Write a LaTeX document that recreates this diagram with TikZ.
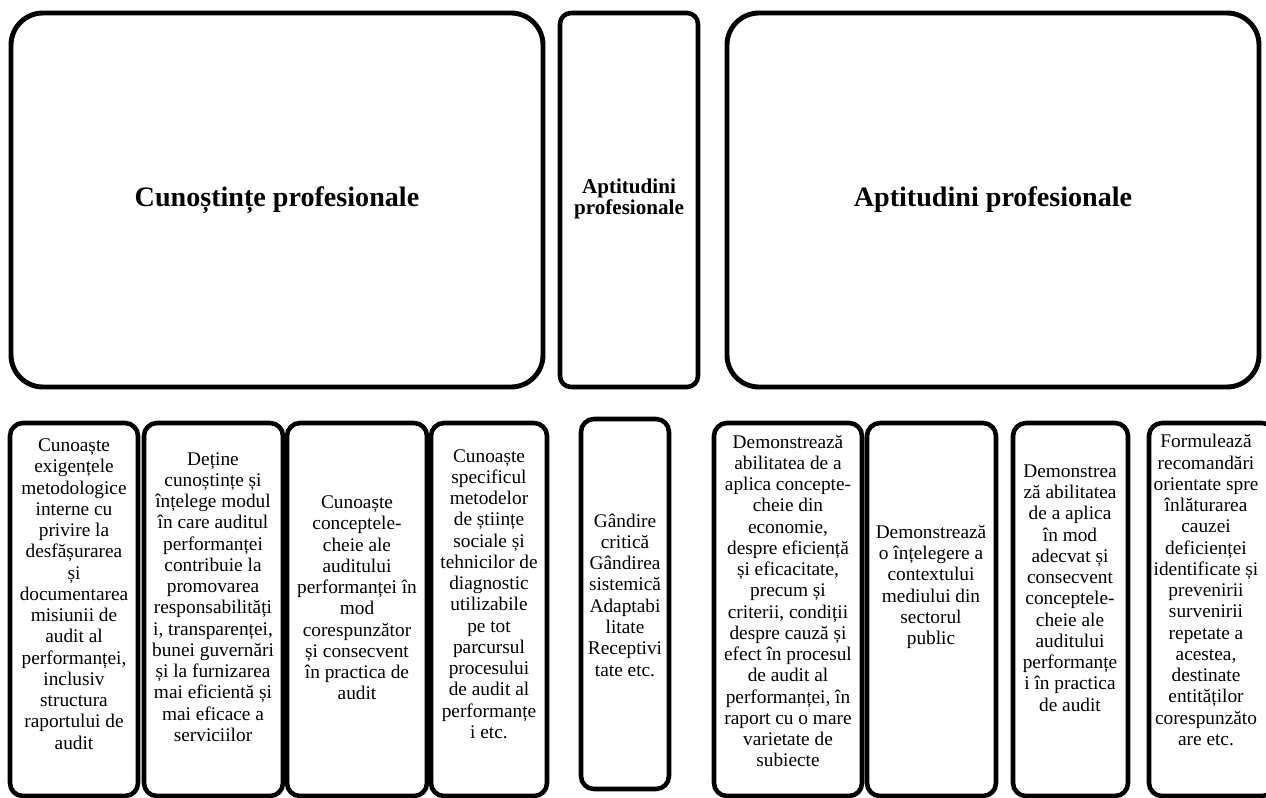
\documentclass[tikz,border=0pt]{standalone}
\usepackage{fontspec}
\setmainfont{Liberation Serif}
\tikzset{
  bigbox/.style={line width=2.8pt,rounded corners=0.64cm},
  midbox/.style={line width=2.6pt,rounded corners=0.22cm},
  colbox/.style={line width=2.6pt,rounded corners=0.26cm},
  titletxt/.style={align=center,inner sep=0pt,font=\fontsize{16}{19}\selectfont\bfseries},
  midtxt/.style={align=center,inner sep=0pt,font=\fontsize{12}{11.5}\selectfont\bfseries},
  coltxt/.style={align=center,inner sep=0pt,font=\fontsize{11}{12.1}\selectfont},
}
\begin{document}
\begin{tikzpicture}[x=0.02cm,y=-0.02cm]
\useasboundingbox (0,0) rectangle (1266,797);
% top row
\draw [bigbox] (11,13) rectangle (543,387);
\draw [midbox] (560,13) rectangle (698,387);
\draw [bigbox] (727,13) rectangle (1259,387);
\node [titletxt] (cunostinte) at (277,200) {Cunoștințe profesionale};
\node [midtxt] (aptmid) at (629,199) {Aptitudini\\profesionale};
\node [titletxt] (aptitudini) at (993,200) {Aptitudini profesionale};
% bottom row
\foreach \a/\b in {10/138,144/283,287/427,431/547,714/862,867/996,1013/1128,1149/1275}
  \draw [colbox] (\a,423) rectangle (\b,796);
\draw [colbox] (581,419) rectangle (669,789);
\node [coltxt] (c1) at (74,594) {Cunoaște\\exigențele\\metodologice\\interne cu\\privire la\\desfășurarea\\și\\documentarea\\misiunii de\\audit al\\performanței,\\inclusiv\\structura\\raportului de\\audit};
\node [coltxt] (c2) at (213,597) {Deține\\cunoștințe și\\înțelege modul\\în care auditul\\performanței\\contribuie la\\promovarea\\responsabilități\\i, transparenței,\\bunei guvernări\\și la furnizarea\\mai eficientă și\\mai eficace a\\serviciilor};
\node [coltxt] (c3) at (357,598) {Cunoaște\\conceptele-\\cheie ale\\auditului\\performanței în\\mod\\corespunzător\\și consecvent\\în practica de\\audit};
\node [coltxt] (c4) at (489,594) {Cunoaște\\specificul\\metodelor\\de științe\\sociale și\\tehnicilor de\\diagnostic\\utilizabile\\pe tot\\parcursul\\procesului\\de audit al\\performanțe\\i etc.};
\node [coltxt] (c5) at (625,595) {Gândire\\critică\\Gândirea\\sistemică\\Adaptabi\\litate\\Receptivi\\tate etc.};
\node [coltxt] (c6) at (788,601) {Demonstrează\\abilitatea de a\\aplica concepte-\\cheie din\\economie,\\despre eficiență\\și eficacitate,\\precum și\\criterii, condiții\\despre cauză și\\efect în procesul\\de audit al\\performanței, în\\raport cu o mare\\varietate de\\subiecte};
\node [coltxt] (c7) at (931,587) {Demonstrează\\o înțelegere a\\contextului\\mediului din\\sectorul\\public};
\node [coltxt] (c8) at (1070,588) {Demonstrea\\ză abilitatea\\de a aplica\\în mod\\adecvat și\\consecvent\\conceptele-\\cheie ale\\auditului\\performanțe\\i în practica\\de audit};
\node [coltxt] (c9) at (1206,590) {Formulează\\recomandări\\orientate spre\\înlăturarea\\cauzei\\deficienței\\identificate și\\prevenirii\\survenirii\\repetate a\\acestea,\\destinate\\entităților\\corespunzăto\\are etc.};
\end{tikzpicture}
\end{document}
